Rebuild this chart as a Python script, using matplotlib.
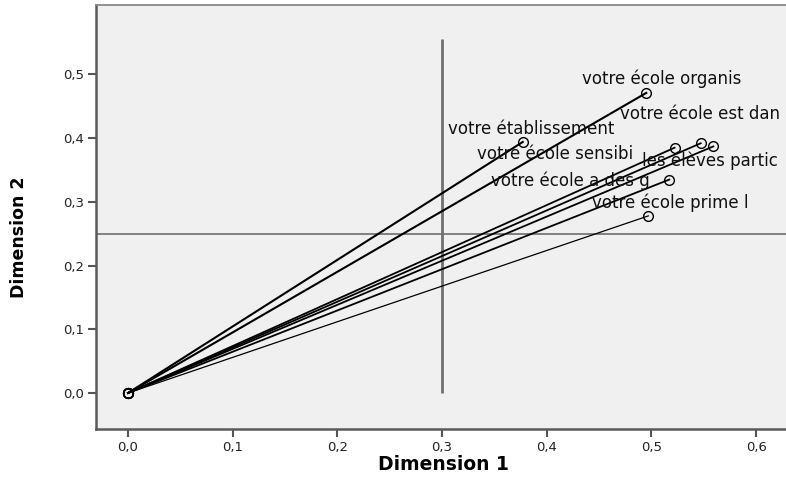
import numpy as np
import matplotlib
matplotlib.use("Agg")
import matplotlib.pyplot as plt
from matplotlib.ticker import FuncFormatter

# loadings
labels = ["votre école organis", "votre établissement", "votre école est dan",
          "votre école sensibi", "les élèves partic", "votre école a des g",
          "votre école prime l"]
dim1 = [0.495, 0.377, 0.547, 0.522, 0.559, 0.517, 0.497]
dim2 = [0.471, 0.394, 0.392, 0.385, 0.387, 0.335, 0.278]
xticks = [0.0, 0.1, 0.2, 0.3, 0.4, 0.5, 0.6]
yticks = [0.0, 0.1, 0.2, 0.3, 0.4, 0.5]

# reference lines
ref_x = 0.3
ref_x_top = 0.556
ref_y = 0.25

# label placement (pixels, relative to the point)
label_dx = [-64, -75, -81, -198, -71, -178, -56]
label_dy = [14, 13, 29, -6, -14, -1, 13]
line_w = [1.5, 1.5, 1.3, 1.3, 1.3, 1.3, 0.9]

fig = plt.figure(figsize=(7.86, 4.82), dpi=100)
fig.patch.set_facecolor("white")
ax = fig.add_axes([96 / 786, 1 - 429 / 482, 694 / 786, 424 / 482])
ax.set_facecolor("#f0f0f0")

ax.axhline(ref_y, color="#6e6e6e", lw=1.2, zorder=1)
ax.vlines(ref_x, 0, ref_x_top, color="#707070", lw=2.0, zorder=1)

for i in range(len(labels)):
    ax.plot([0, dim1[i]], [0, dim2[i]], "-", color="black", lw=line_w[i], zorder=2)
    ax.plot([0, dim1[i]], [0, dim2[i]], "o", ms=7, mfc="none", mec="black", mew=1.0, zorder=3)
    ax.annotate(labels[i], (dim1[i], dim2[i]), xytext=(label_dx[i], label_dy[i]),
                textcoords="offset pixels", ha="left", va="center",
                fontsize=12, family="DejaVu Sans", color="#111111", zorder=4,
                annotation_clip=False)

ax.set_xlim(-0.0306, 0.6323)
ax.set_ylim(-0.0565, 0.609)
ax.set_xticks(xticks)
ax.set_yticks(yticks)
comma = FuncFormatter(lambda v, p: ("%.1f" % v).replace(".", ","))
ax.xaxis.set_major_formatter(comma)
ax.yaxis.set_major_formatter(comma)
ax.tick_params(axis="both", direction="out", length=6, width=1.5, color="#555555",
               labelsize=9.5, labelcolor="#222222", pad=2.5)

for s in ["left", "bottom"]:
    ax.spines[s].set_color("#5a5a5a")
    ax.spines[s].set_linewidth(1.8)
ax.spines["top"].set_color("#888888")
ax.spines["top"].set_linewidth(1.3)
ax.spines["right"].set_visible(False)

fig.text(443 / 786, 1 - 465 / 482, "Dimension 1", ha="center", va="center",
         fontsize=13.5, fontweight="bold", family="DejaVu Sans")
fig.text(19 / 786, 1 - 237 / 482, "Dimension 2", ha="center", va="center",
         rotation=90, fontsize=12.5, fontweight="bold",
         family=["Liberation Sans Narrow", "DejaVu Sans"])

fig.savefig("out.png", dpi=100)
